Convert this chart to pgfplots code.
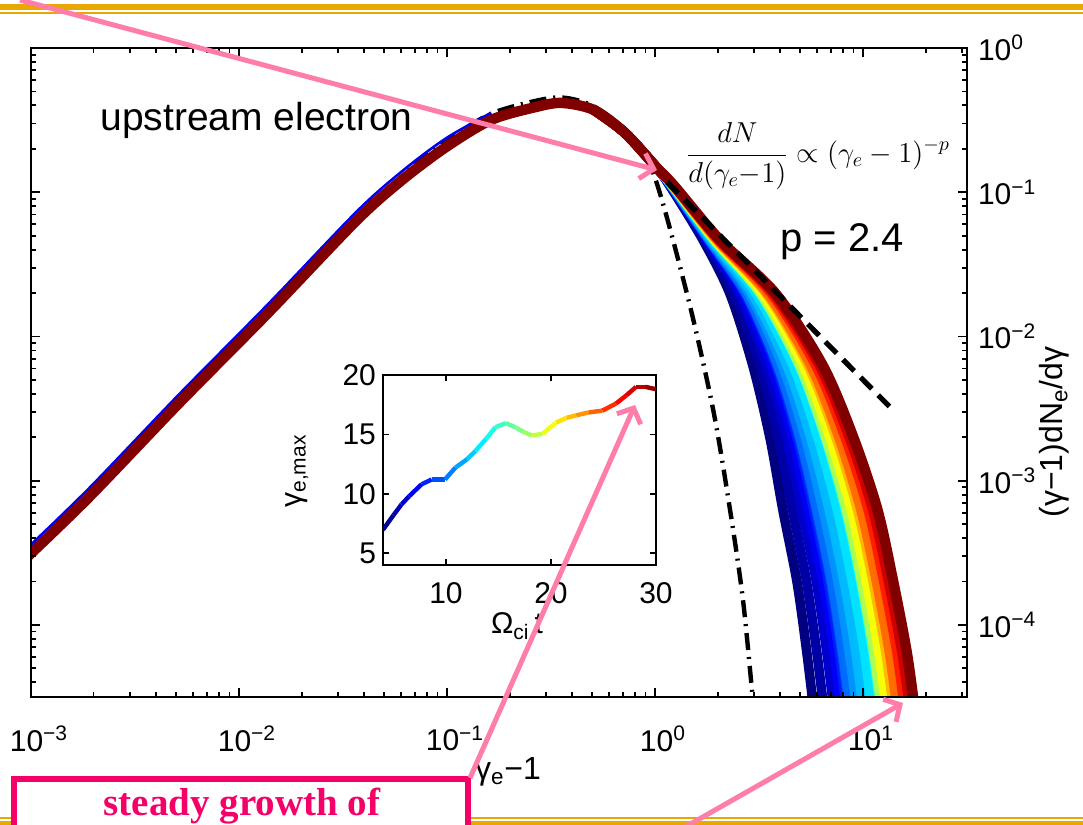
\documentclass[border=0pt]{standalone}
\usepackage{pgfplots}
\pgfplotsset{compat=1.18}
\usepackage{pgfplotstable}
\usepackage{fontspec}
\setmainfont{Liberation Sans}
\newfontfamily\slidefont{Liberation Serif}
\usetikzlibrary{arrows.meta}
\definecolor{gold}{RGB}{232,168,0}
\definecolor{pinkarrow}{RGB}{255,125,170}
\definecolor{boxpink}{RGB}{245,0,105}
\definecolor{j04}{rgb}{0,0,0.5}
\definecolor{j05}{rgb}{0,0,0.654}
\definecolor{j06}{rgb}{0,0,0.808}
\definecolor{j07}{rgb}{0,0,0.962}
\definecolor{j08}{rgb}{0,0.115,1}
\definecolor{j09}{rgb}{0,0.269,1}
\definecolor{j10}{rgb}{0,0.423,1}
\definecolor{j11}{rgb}{0,0.577,1}
\definecolor{j12}{rgb}{0,0.731,1}
\definecolor{j13}{rgb}{0,0.885,1}
\definecolor{j14}{rgb}{0.038,1,0.962}
\definecolor{j16}{rgb}{0.346,1,0.654}
\definecolor{j18}{rgb}{0.654,1,0.346}
\definecolor{j20}{rgb}{0.962,1,0.038}
\definecolor{j22}{rgb}{1,0.731,0}
\definecolor{j24}{rgb}{1,0.423,0}
\definecolor{j26}{rgb}{1,0.115,0}
\definecolor{j28}{rgb}{0.808,0,0}
\definecolor{j30}{rgb}{0.5,0,0}

% high-energy tails of the spectra at Omega_ci t = 4 ... 30 (x values at shared y levels)
\pgfplotstableread{
y t04 t05 t06 t07 t08 t09 t10 t11 t12 t13 t14 t16 t18 t20 t22 t24 t26 t28 t30
0.3715 0.5093 0.5093 0.5093 0.5093 0.5093 0.5093 0.5093 0.5093 0.5093 0.5093 0.5093 0.5093 0.5093 0.5093 0.5093 0.5093 0.5093 0.5093 0.5093
0.2576 0.7178 0.7178 0.7178 0.7178 0.7178 0.7178 0.7178 0.7178 0.7178 0.7178 0.7178 0.7178 0.7178 0.7178 0.7178 0.7178 0.7178 0.7178 0.7178
0.1496 1.0116 1.0116 1.0116 1.0116 1.0116 1.0116 1.0116 1.0116 1.0116 1.0116 1.0116 1.0116 1.0116 1.0116 1.0116 1.0116 1.0116 1.0116 1.0116
0.1104 1.180 1.186 1.191 1.197 1.200 1.200 1.202 1.205 1.208 1.213 1.219 1.225 1.219 1.222 1.227 1.227 1.233 1.236 1.239
0.04667 1.702 1.734 1.766 1.791 1.807 1.816 1.820 1.841 1.866 1.897 1.923 1.954 1.928 1.945 1.972 1.986 2.014 2.032 2.051
0.01968 2.296 2.415 2.541 2.636 2.710 2.742 2.761 2.851 2.944 3.076 3.214 3.350 3.229 3.311 3.436 3.491 3.631 3.724 3.819
6.237e-3 2.958 3.199 3.452 3.648 3.811 3.882 3.908 4.112 4.325 4.624 4.932 5.248 4.977 5.176 5.458 5.610 5.943 6.180 6.427
1.972e-3 3.573 3.917 4.295 4.592 4.831 4.943 4.989 5.297 5.623 6.082 6.577 7.080 6.637 6.950 7.430 7.674 8.222 8.610 9.016
6.252e-4 4.121 4.581 5.082 5.470 5.794 5.943 6.012 6.427 6.887 7.533 8.222 8.954 8.318 8.770 9.419 9.772 10.59 11.14 11.75
1.982e-4 4.819 5.358 5.970 6.427 6.808 6.998 7.080 7.586 8.128 8.892 9.750 10.62 9.840 10.38 11.19 11.61 12.59 13.27 13.99
6.281e-5 5.383 6.012 6.714 7.261 7.709 7.925 8.017 8.610 9.268 10.19 11.17 12.22 11.30 11.94 12.91 13.43 14.59 15.42 16.29
2.188e-5 5.875 6.577 7.345 7.943 8.453 8.690 8.790 9.462 10.16 11.17 12.30 13.46 12.45 13.15 14.22 14.79 16.07 17.02 17.99
}\tails

\begin{document}
\begin{tikzpicture}
\useasboundingbox (0,0) rectangle (541.5pt,412.5pt);
\clip (0,0) rectangle (541.5pt,412.5pt);

% ---------------- main spectrum ----------------
\begin{axis}[
  at={(15.5pt,64pt)}, anchor=south west,
  scale only axis, width=468pt, height=324.5pt,
  xmode=log, ymode=log,
  xmin=1e-3, xmax=31.6228, ymin=3.1623e-5, ymax=1,
  xtick={1e-3,1e-2,1e-1,1,10},
  xticklabels={10\textsuperscript{−3},10\textsuperscript{−2},10\textsuperscript{−1},10\textsuperscript{0},10\textsuperscript{1}},
  minor xtick={0.002,0.003,0.004,0.005,0.006,0.007,0.008,0.009,0.02,0.03,0.04,0.05,0.06,0.07,0.08,0.09,0.2,0.3,0.4,0.5,0.6,0.7,0.8,0.9,2,3,4,5,6,7,8,9,20,30},
  ytick={1e-4,1e-3,1e-2,1e-1,1},
  yticklabels={10\textsuperscript{−4},10\textsuperscript{−3},10\textsuperscript{−2},10\textsuperscript{−1},10\textsuperscript{0}},
  minor ytick={4e-5,5e-5,6e-5,7e-5,8e-5,9e-5,2e-4,3e-4,4e-4,5e-4,6e-4,7e-4,8e-4,9e-4,2e-3,3e-3,4e-3,5e-3,6e-3,7e-3,8e-3,9e-3,0.02,0.03,0.04,0.05,0.06,0.07,0.08,0.09,0.2,0.3,0.4,0.5,0.6,0.7,0.8,0.9},
  xtick pos=both, ytick pos=both, yticklabel pos=right,
  tick align=inside,
  major tick length=4.5pt, minor tick length=2.5pt,
  tick style={black, line width=0.9pt},
  axis line style={line width=1.2pt},
  tick label style={font=\fontsize{15}{15}\selectfont},
  xticklabel style={yshift=-11pt, xshift=4pt},
  yticklabel style={xshift=2pt},
  axis on top,
]
% Maxwellian fit (dash-dot)
\addplot[black, line width=2.2pt, smooth, tension=0.5, dash pattern=on 8.5pt off 3.5pt on 1pt off 3.5pt] coordinates {
(0.03162,0.0526) (0.0631,0.1355) (0.1,0.2275) (0.1585,0.3443) (0.2512,0.4217) (0.3548,0.4539) (0.5012,0.3981) (0.7079,0.2692) (0.9772,0.1380) (1.4256,0.01968) (1.901,3.141e-3) (2.296,6.252e-4) (2.649,1.486e-4) (2.958,3.013e-5) (3.090,1.778e-5)};
% thin blue edge of the early spectra along the rising part
\addplot[j07, line width=1.3pt, smooth, tension=0.5] coordinates {
(0.00095,3.36e-4) (1.901e-3,8.85e-4) (5.152e-3,3.97e-3) (1.377e-2,1.670e-2) (3.69e-2,7.37e-2) (6.081e-2,0.1398) (9.886e-2,0.2364) (0.1629,0.3550)};
% spectra tails, early (blue) to late (dark red)
\addplot[j04, line width=4.8pt, smooth, tension=0.5] table[x=t04,y=y]{\tails};
\addplot[j05, line width=4.8pt, smooth, tension=0.5] table[x=t05,y=y]{\tails};
\addplot[j06, line width=4.8pt, smooth, tension=0.5] table[x=t06,y=y]{\tails};
\addplot[j07, line width=4.8pt, smooth, tension=0.5] table[x=t07,y=y]{\tails};
\addplot[j08, line width=4.8pt, smooth, tension=0.5] table[x=t08,y=y]{\tails};
\addplot[j09, line width=4.8pt, smooth, tension=0.5] table[x=t09,y=y]{\tails};
\addplot[j10, line width=4.8pt, smooth, tension=0.5] table[x=t10,y=y]{\tails};
\addplot[j11, line width=4.8pt, smooth, tension=0.5] table[x=t11,y=y]{\tails};
\addplot[j12, line width=4.8pt, smooth, tension=0.5] table[x=t12,y=y]{\tails};
\addplot[j13, line width=4.8pt, smooth, tension=0.5] table[x=t13,y=y]{\tails};
\addplot[j14, line width=4.8pt, smooth, tension=0.5] table[x=t14,y=y]{\tails};
\addplot[j16, line width=4.8pt, smooth, tension=0.5] table[x=t16,y=y]{\tails};
\addplot[j18, line width=4.8pt, smooth, tension=0.5] table[x=t18,y=y]{\tails};
\addplot[j20, line width=4.8pt, smooth, tension=0.5] table[x=t20,y=y]{\tails};
\addplot[j22, line width=4.8pt, smooth, tension=0.5] table[x=t22,y=y]{\tails};
\addplot[j24, line width=4.8pt, smooth, tension=0.5] table[x=t24,y=y]{\tails};
\addplot[j26, line width=4.8pt, smooth, tension=0.5] table[x=t26,y=y]{\tails};
\addplot[j28, line width=4.8pt, smooth, tension=0.5] table[x=t28,y=y]{\tails};
\addplot[j30, line width=5.2pt, smooth, tension=0.5] table[x=t30,y=y]{\tails};
% common low-energy part
\addplot[j30, line width=5.2pt, smooth, tension=0.5, line cap=round] coordinates {
(0.00095,2.92e-4) (1.901e-3,7.69e-4) (5.152e-3,3.451e-3) (1.377e-2,1.452e-2) (3.69e-2,6.412e-2) (6.081e-2,0.1216) (9.886e-2,0.2056) (0.1629,0.3170) (0.2679,0.3899) (0.3573,0.4159) (0.5093,0.3715) (0.7178,0.2576) (1.0116,0.1496)};
% power law p = 2.4
\addplot[black, line width=2.6pt, dash pattern=on 8pt off 4.5pt] coordinates {(1.143,0.1178) (13.49,3.236e-3)};
\end{axis}

% ---------------- inset ----------------
\begin{axis}[
  at={(191.5pt,130pt)}, anchor=south west,
  scale only axis, width=136.5pt, height=95pt,
  xmin=4, xmax=30, ymin=4, ymax=20,
  xtick={10,20,30}, ytick={5,10,15,20},
  tick align=inside, major tick length=3pt,
  tick style={black, line width=0.8pt},
  axis line style={line width=1pt},
  tick label style={font=\fontsize{15}{15}\selectfont},
  /pgf/number format/assume math mode=true,
  xticklabel style={yshift=-5pt},
  colormap/jet,
]
\addplot[mesh, point meta=x, line width=2.2pt] coordinates {
(4,6.97) (5,8.2) (5.76,9.1) (6.5,9.8) (7.68,10.8) (8.64,11.2) (9.9,11.2) (10.9,12.2) (12.0,12.9) (12.8,13.6) (13.8,14.6) (14.7,15.6) (15.7,15.95) (16.6,15.6) (17.4,15.2) (18.2,14.9) (19.2,15.05) (20.5,16.0) (21.5,16.4) (22.4,16.6) (23.6,16.85) (24.9,17.0) (26.2,17.6) (27.2,18.3) (28.1,19.0) (29,19.0) (30,18.8)};
\end{axis}

% ---------------- overlay in pixel units ----------------
\begin{scope}[shift={(0pt,412.5pt)}, x=0.5pt, y=-0.5pt]
\fill[gold] (0,4) rectangle (1083,10);
\fill[gold] (0,12) rectangle (1083,14);
\fill[gold] (0,817) rectangle (1083,819);
\fill[gold] (0,821) rectangle (1083,826);

\node[anchor=base west, inner sep=0pt, font=\fontsize{19.5}{20}\selectfont] at (100,131) {upstream electron};
\node[anchor=base west, inner sep=0pt, font=\fontsize{20}{20}\selectfont] at (780,252) {p = 2.4};
\node[inner sep=0pt, font=\fontsize{14.5}{16}\selectfont] at (818,156) {$\displaystyle\frac{dN}{d(\gamma_e{-}1)}\propto(\gamma_e-1)^{-p}$};
\node[font=\fontsize{16}{16}\selectfont] at (508,772) {γ\textsubscript{e}−1};
\node[rotate=90, font=\fontsize{16}{16}\selectfont] at (1054,432) {(γ−1)dN\textsubscript{e}/dγ};
\node[rotate=90, font=\fontsize{15}{15}\selectfont] at (297,471) {γ\textsubscript{e,max}};
\node[font=\fontsize{15}{15}\selectfont] at (517,626) {Ω\textsubscript{ci}\,t};

\draw[pinkarrow, line width=2.5pt, -{Straight Barb[length=6pt,width=13pt]}] (20,0) -- (657,170);
\draw[boxpink, line width=2.6pt, fill=white] (14,779) rectangle (468,845);
\node[anchor=base, inner sep=0pt, text=boxpink, font=\slidefont\bfseries\fontsize{19.5}{20}\selectfont] at (242,816) {steady growth of};
\draw[pinkarrow, line width=2.5pt, -{Straight Barb[length=6pt,width=13pt]}] (470,778) -- (635,405);
\draw[pinkarrow, line width=2.5pt, -{Straight Barb[length=6pt,width=13pt]}] (680,830) -- (903,703);
\end{scope}
\end{tikzpicture}
\end{document}
